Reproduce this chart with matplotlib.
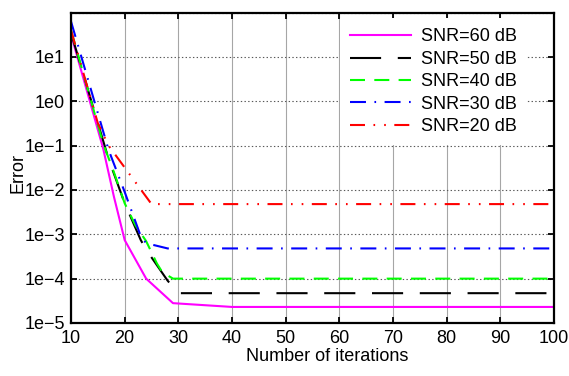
import matplotlib
matplotlib.use('Agg')
import matplotlib.pyplot as plt
from matplotlib.ticker import FixedLocator, FuncFormatter, NullLocator

plt.rcParams['font.family'] = ['Liberation Sans', 'DejaVu Sans']
plt.rcParams['font.size'] = 13
plt.rcParams['lines.scale_dashes'] = False

# data (error vs iteration, log scale)
iters_60 = [10, 16, 18, 20, 24, 29, 40, 100]
err_60 = [3.2e1, 8.5e-2, 7e-3, 7.4e-4, 1e-4, 2.8e-5, 2.3e-5, 2.3e-5]

iters_50 = [10, 17, 20, 23, 24, 28, 30, 100]
err_50 = [3.5e1, 5e-2, 5e-3, 7.4e-4, 4.5e-4, 9e-5, 4.7e-5, 4.7e-5]

iters_40 = [10, 16, 18, 20, 22, 24, 26, 27, 29, 100]
err_40 = [4e1, 1.1e-1, 2.5e-2, 5e-3, 1.6e-3, 7e-4, 2.2e-4, 1.4e-4, 1e-4, 1e-4]

iters_30 = [10, 17, 20, 23, 24, 28, 100]
err_30 = [6.3e1, 8e-2, 9e-3, 9e-4, 6.3e-4, 4.8e-4, 4.8e-4]

iters_20 = [10, 15, 17, 20, 25, 100]
err_20 = [4e1, 3.2e-1, 1e-1, 3.2e-2, 4.8e-3, 4.8e-3]

labels = ['SNR=60 dB', 'SNR=50 dB', 'SNR=40 dB', 'SNR=30 dB', 'SNR=20 dB']
x_ticks = [10, 20, 30, 40, 50, 60, 70, 80, 90, 100]
y_ticks = [1e-5, 1e-4, 1e-3, 1e-2, 1e-1, 1e0, 1e1, 1e2]

fig = plt.figure(figsize=(5.69, 3.76), dpi=100)
ax = fig.add_axes([0.1248, 0.141, 0.849, 0.8255])

ax.plot(iters_60, err_60, color='#ff00ff', lw=1.5, ls='-', label=labels[0])
ax.plot(iters_50, err_50, color='black', lw=1.5, ls=(0, (22.4, 12)), label=labels[1])
ax.plot(iters_40, err_40, color='#00ff00', lw=1.5, ls=(0, (10.8, 6.7)), label=labels[2])
ax.plot(iters_30, err_30, color='#0000ff', lw=1.5, ls=(0, (11.5, 6.1, 1.2, 6.1)), label=labels[3])
ax.plot(iters_20, err_20, color='#ff0000', lw=1.5,
        ls=(0, (10.8, 6.1, 1.2, 6.5, 1.2, 6.1)), label=labels[4])

ax.set_yscale('log')
ax.set_xlim(10, 100)
ax.set_ylim(1e-5, 1e2)
ax.set_xticks(x_ticks)
ax.yaxis.set_major_locator(FixedLocator(y_ticks))
ax.yaxis.set_minor_locator(NullLocator())


def fmt_exp(v, pos):
    e = int(round(__import__('math').log10(v)))
    if e >= 2:
        return ''
    return '1e' + str(e).replace('-', '\u2212')


ax.yaxis.set_major_formatter(FuncFormatter(fmt_exp))

ax.tick_params(direction='in', top=True, right=True, length=4, width=1.3)
ax.tick_params(axis='x', pad=5)
ax.tick_params(axis='y', pad=4.5)
for s in ax.spines.values():
    s.set_linewidth(1.6)

ax.xaxis.grid(True, linestyle='-', color='0.65', lw=0.8)
ax.yaxis.grid(True, linestyle=':', color='0.35', lw=0.8)

ax.set_xlabel('Number of iterations', labelpad=1)
ax.xaxis.label.set_x(0.53)
ax.set_ylabel('Error')
ax.yaxis.set_label_coords(-0.093, 0.483)

leg = ax.legend(loc='upper right', bbox_to_anchor=(0.944, 0.981), borderaxespad=0,
                borderpad=0.55, labelspacing=0.3, handlelength=3.4, handletextpad=0.55,
                fancybox=False, framealpha=1, facecolor='white', edgecolor='none')

fig.savefig('out.png', dpi=100)
